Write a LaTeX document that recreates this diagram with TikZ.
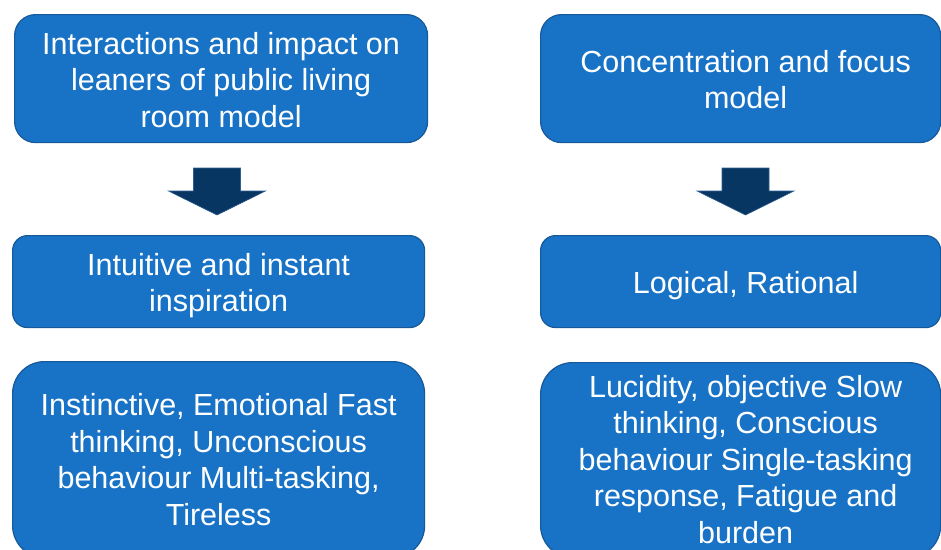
\documentclass[tikz,border=0pt]{standalone}
\usepackage{fontspec}
\setmainfont{Liberation Sans}
\usetikzlibrary{calc}
\definecolor{boxblue}{RGB}{24,115,198}
\definecolor{boxedge}{RGB}{22,88,152}
\definecolor{arrownavy}{RGB}{8,54,98}
\definecolor{arrowedge}{RGB}{45,95,145}
\begin{document}
\begin{tikzpicture}[x=1pt,y=-1pt,
  box/.style={draw=boxedge, line width=1.2pt, fill=boxblue, inner sep=0pt, anchor=north west},
  boxtext/.style={text=white, align=center, font=\fontsize{30.5}{36.5}\selectfont, inner sep=0pt},
  blockarrow/.style={fill=arrownavy, draw=arrowedge, line width=0.6pt},
  downarrow/.pic={\draw[blockarrow] (-23.5,0) -- (23.5,0) -- (23.5,23) -- (48.5,23) -- (0,47) -- (-48.5,23) -- (-23.5,23) -- cycle;}]
\useasboundingbox (0,0) rectangle (941,549);
\clip (0,0) rectangle (941,549);
\node[box, minimum width=413pt, minimum height=128pt, rounded corners=21pt] (L1) at (14,14) {};
\node[box, minimum width=400pt, minimum height=128pt, rounded corners=21pt] (R1) at (540,14) {};
\node[box, minimum width=412pt, minimum height=92pt, rounded corners=15pt] (L2) at (12,235) {};
\node[box, minimum width=400pt, minimum height=92pt, rounded corners=15pt] (R2) at (540,235) {};
\node[box, minimum width=412pt, minimum height=196pt, rounded corners=32pt] (L3) at (12,361) {};
\node[box, minimum width=400pt, minimum height=195pt, rounded corners=32pt] (R3) at (540,362) {};
\node[boxtext] (L1t) at ($(L1.center)+(0,1)$) {Interactions and impact on\\leaners of public living\\room model};
\node[boxtext] (R1t) at ($(R1.center)+(5,1)$) {Concentration and focus\\model};
\node[boxtext] (L2t) at ($(L2.center)+(0,4)$) {Intuitive and instant\\inspiration};
\node[boxtext] (R2t) at ($(R2.center)+(5,4)$) {Logical, Rational};
\node[boxtext] (L3t) at ($(L3.center)+(0,0)$) {Instinctive, Emotional Fast\\thinking, Unconscious\\behaviour Multi-tasking,\\Tireless};
\node[boxtext] (R3t) at ($(R3.center)+(5,-1)$) {Lucidity, objective Slow\\thinking, Conscious\\behaviour Single-tasking\\response, Fatigue and\\burden};
\coordinate (aL) at (217,168);
\coordinate (aR) at (745.5,168);
\pic at (aL) {downarrow};
\pic at (aR) {downarrow};
\end{tikzpicture}
\end{document}
